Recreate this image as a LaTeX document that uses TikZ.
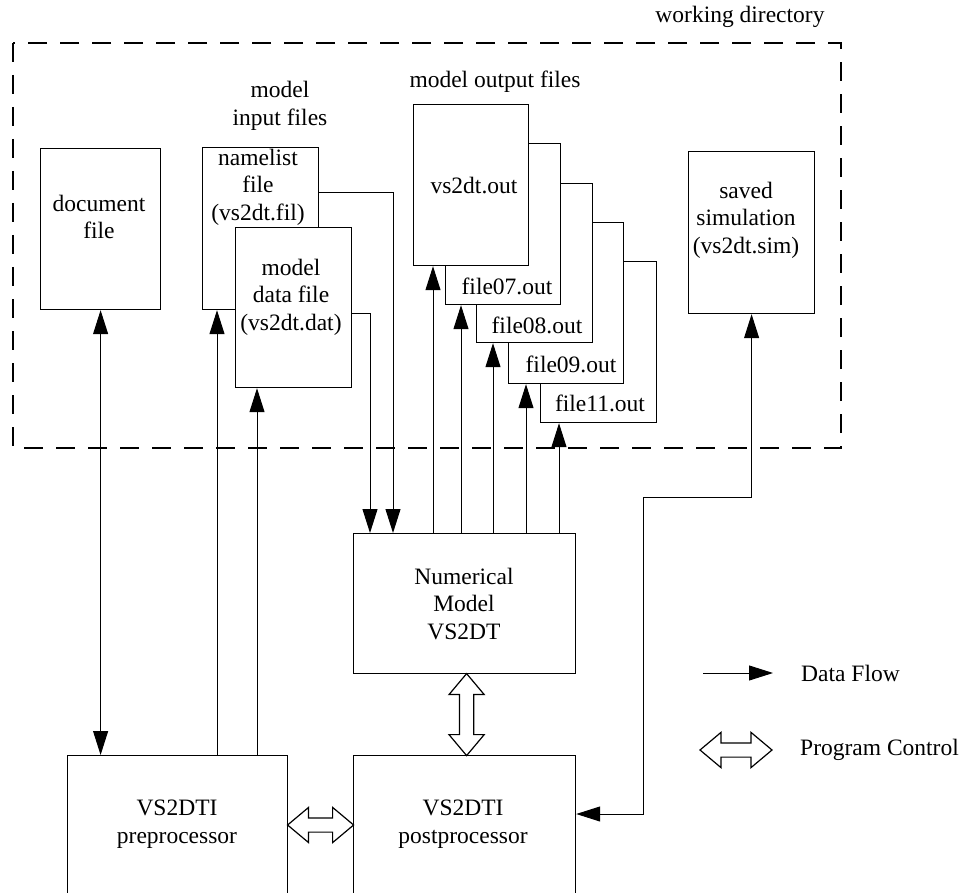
\documentclass[tikz,border=0pt]{standalone}
\usepackage{fontspec}
\setmainfont{Liberation Serif}
\usetikzlibrary{arrows.meta,calc,shapes.arrows}
\begin{document}
\begin{tikzpicture}[x=1pt,y=-1pt,
  font=\fontsize{23.5}{27.5}\selectfont,
  box/.style={draw, fill=white, line width=1.2pt, inner sep=0pt, anchor=north west},
  txt/.style={align=center, inner sep=0pt},
  flow/.style={-{Triangle[length=24pt,width=15pt]}, line width=1pt},
  flowboth/.style={{Triangle[length=24pt,width=15pt]}-{Triangle[length=24pt,width=15pt]}, line width=1pt},
  ctrl/.style={double arrow, draw, fill=white, line width=1.2pt, inner sep=6.5pt,
    double arrow head extend=10.5pt, double arrow tip angle=80, double arrow head indent=0pt}
]
\useasboundingbox (0,0) rectangle (966,893);
\clip (0,0) rectangle (966,893);
\fill[white] (0,0) rectangle (966,893);

% working directory
\draw[line width=1.5pt, dash pattern=on 19pt off 13pt] (13,43) rectangle (841,448);
\node[txt] (wd) at (740,17) {working directory};

% boxes
\node[box, minimum width=120pt, minimum height=161pt] (doc) at (40,148) {};
\node[box, minimum width=116pt, minimum height=162pt] (nl) at (202,147) {};
\node[box, minimum width=116pt, minimum height=160pt] (dat) at (235,227) {};

\node[box, minimum width=116pt, minimum height=161pt] (f11) at (540,261) {};
\node[box, minimum width=115pt, minimum height=161pt] (f09) at (508,222) {};
\node[box, minimum width=116pt, minimum height=159pt] (f08) at (476,183) {};
\node[box, minimum width=115pt, minimum height=161pt] (f07) at (445,143) {};
\node[box, minimum width=115pt, minimum height=161pt] (out0) at (413,104) {};

\node[box, minimum width=126pt, minimum height=162pt] (sim) at (688,151) {};

\node[box, minimum width=222pt, minimum height=140pt] (num) at (353,533) {};
\node[box, minimum width=220pt, minimum height=165pt] (pre) at (67,755) {};
\node[box, minimum width=222pt, minimum height=165pt] (post) at (353,755) {};

% texts
\node[txt] (tin) at (280,106) {model\\input files};
\node[txt] (tout) at (495,82) {model output files};
\node[txt] (tdoc) at (99,217) {document\\file};
\node[txt] (tnl) at (258,187) {namelist\\file\\(vs2dt.fil)};
\node[txt] (tdat) at (291,297) {model\\data file\\(vs2dt.dat)};
\node[txt] (tout0) at (474,186) {vs2dt.out};
\node[txt] (t07) at (507,286) {file07.out};
\node[txt] (t08) at (537,325) {file08.out};
\node[txt] (t09) at (571,364) {file09.out};
\node[txt] (t11) at (600,403) {file11.out};
\node[txt] (tsim) at (746,220) {saved\\simulation\\(vs2dt.sim)};
\node[txt] (tnum) at (464,604) {Numerical\\Model\\VS2DT};
\node[txt] (tpre) at (177,824) {VS2DTI\\preprocessor};
\node[txt] (tpost) at (463,824) {VS2DTI\\postprocessor};

% data flow connectors
\draw[flowboth] (doc.south) -- (doc.south |- pre.north);

\coordinate (a1) at ($(nl.south west)+(15,0)$);
\coordinate (a2) at ($(dat.south west)+(22,0)$);
\draw[flow] (a1 |- pre.north) -- (a1);
\draw[flow] (a2 |- pre.north) -- (a2);

\coordinate (b1) at ($(nl.north east)+(0,46)$);
\coordinate (b2) at ($(dat.north east)+(0,86)$);
\draw[flow] (b1) -| ($(num.north west)+(40,0)$);
\draw[flow] (b2) -| ($(num.north west)+(17,0)$);

\coordinate (c1) at ($(num.north west)+(80,0)$);
\coordinate (c2) at ($(num.north west)+(108,0)$);
\coordinate (c3) at ($(num.north west)+(140,0)$);
\coordinate (c4) at ($(num.north west)+(173,0)$);
\coordinate (c5) at ($(num.north west)+(206,0)$);
\draw[flow] (c1) -- (c1 |- out0.south);
\draw[flow] (c2) -- (c2 |- f07.south);
\draw[flow] (c3) -- (c3 |- f08.south);
\draw[flow] (c4) -- (c4 |- f09.south);
\draw[flow] (c5) -- (c5 |- f11.south);

\coordinate (e1) at (643,497);
\coordinate (d1) at ($(post.north east)+(0,59)$);
\draw[flowboth] (sim.south) |- (e1) |- (d1);

% program control
\node[ctrl, rotate=90, minimum height=82pt] (pc1) at ($(num.south)!0.5!(post.north)+(2,0)$) {};
\node[ctrl, minimum height=66pt] (pc2) at ($(pre.north east)!0.5!(post.north west)+(0,70)$) {};

% legend
\coordinate (l1) at (703,673);
\coordinate (l2) at (773,673);
\draw[flow] (l1) -- (l2);
\node[txt, anchor=west] (tdf) at (801,673) {Data Flow};
\node[ctrl, minimum height=72pt] (pc3) at (736,750) {};
\node[txt, anchor=west] (tpc) at (800,750) {Program Control};
\end{tikzpicture}
\end{document}
